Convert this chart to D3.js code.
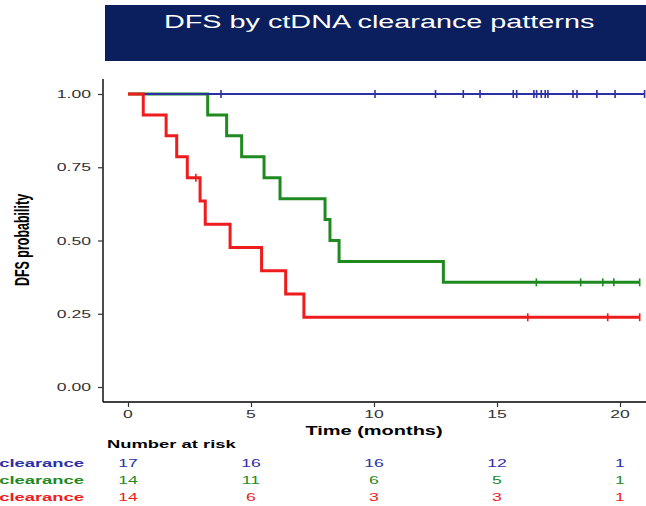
<!DOCTYPE html>
<html>
<head>
<meta charset="utf-8">
<script src="https://cdn.jsdelivr.net/npm/d3@7"></script>
<style>
body{margin:0;background:#fff}
svg{display:block}
text{font-family:"Liberation Sans",Arial,Helvetica,sans-serif}
</style>
</head>
<body>
<svg id="chart"></svg>
<script>
// km plot, DFS by ctDNA clearance

var title="DFS by ctDNA clearance patterns";
var groups=["clearance","clearance","clearance"];
var colors=["#2c30a6","#1f8a1f","#ee1c1c"];
var widths=[2,3,3];

// event / censor times (months)
var blueEvents=[];
var blueCensor=[3.78,10.04,12.5,13.63,14.31,15.66,15.8,16.5,16.61,16.8,16.96,17.07,18.09,18.25,19.06,19.8,21.0];
var greenEvents=[3.24,4.01,4.62,5.53,6.18,8.01,8.21,8.58,12.82];
var greenCensor=[16.6,18.4,19.3,19.75,20.8];
var redEvents=[0.62,1.55,1.98,2.41,2.93,3.14,4.15,5.43,6.41,7.15];
var redCensor=[2.76,16.25,19.5,20.8];

var riskTimes=[0,5,10,15,20];
var riskBlue=[17,16,16,12,1];
var riskGreen=[14,11,6,5,1];
var riskRed=[14,6,3,3,1];

var xTicks=[0,5,10,15,20];
var yTicks=[0,0.25,0.5,0.75,1];

w=646;h=506;
SX=1.6; // the figure is stretched sideways
var svg=d3.select("#chart").attr("width",w).attr("height",h);

var x=d3.scaleLinear().domain([0,20]).range([128,620]);
var y=d3.scaleLinear().domain([0,1]).range([387,94]);

// kaplan-meier from event and censor times
function km(ev,ce) {
	var all=ev.map(function(t){return {t:t,e:1};}).concat(ce.map(function(t){return {t:t,e:0};}));
	all.sort(function(a,b){return a.t-b.t;});
	var n=all.length,s=1,pts=[{t:0,s:1}],marks=[];
	all.forEach(function(d) {
		if(d.e) {s=s*(n-1)/n;pts.push({t:d.t,s:s});}
		else marks.push({t:d.t,s:s});
		n--;
	});
	pts.push({t:all[all.length-1].t,s:s});
	return {pts:pts,marks:marks};
}

var curves=[km(blueEvents,blueCensor),km(greenEvents,greenCensor),km(redEvents,redCensor)];

function label(g,px,py,txt,size,anchor,color,weight,rot) {
	return g.append("text")
		.attr("transform","translate("+px+","+py+") scale("+SX+",1)"+(rot?" rotate("+rot+")":""))
		.attr("text-anchor",anchor)
		.style("font-size",size+"px")
		.style("font-weight",weight||"normal")
		.style("fill",color)
		.text(txt);
}

// title box
svg.append("rect").attr("x",105).attr("y",5).attr("width",w-105).attr("height",56).style("fill","#0b1f5e");
label(svg,164,28,title,18,"start","#fff");

// axes
var gy=svg.append("g").attr("transform","translate(103,0)")
	.call(d3.axisLeft(y).tickValues(yTicks).tickSize(5).tickFormat(""));
gy.select(".domain").attr("d","M0,79V402");
var gx=svg.append("g").attr("transform","translate(0,402)")
	.call(d3.axisBottom(x).tickValues(xTicks).tickSize(5).tickFormat(""));
gx.select(".domain").attr("d","M103,0H"+w);
svg.selectAll(".domain").style("stroke","#000").style("stroke-width",1.4);
svg.selectAll(".tick line").style("stroke","#333").style("stroke-width",1.2);

yTicks.forEach(function(v) {label(svg,91,y(v)+4,d3.format(".2f")(v),11,"end","#333");});
xTicks.forEach(function(v) {label(svg,x(v),418,v,11,"middle","#333");});
label(svg,374,435,"Time (months)",12.5,"middle","#000","bold");
label(svg,29,240,"DFS probability",12.5,"middle","#000","bold",-90);

// curves, green under blue under red
var line=d3.line().x(function(d){return x(d.t);}).y(function(d){return y(d.s);}).curve(d3.curveStepAfter);
[1,0,2].forEach(function(i) {
	var c=curves[i];
	svg.append("path").attr("d",line(c.pts))
		.style("fill","none").style("stroke",colors[i]).style("stroke-width",widths[i]);
	svg.selectAll(".cens"+i).data(c.marks).enter().append("line")
		.attr("x1",function(d){return x(d.t);}).attr("x2",function(d){return x(d.t);})
		.attr("y1",function(d){return y(d.s)-4;}).attr("y2",function(d){return y(d.s)+4;})
		.style("stroke",colors[i]).style("stroke-width",1.6);
});

// risk table
label(svg,107,448,"Number at risk",11.5,"start","#000","bold");
var risk=[riskBlue,riskGreen,riskRed];
risk.forEach(function(r,i) {
	var yy=467+i*17;
	label(svg,84,yy,groups[i],11.5,"end",colors[i],"bold");
	r.forEach(function(v,j) {label(svg,x(riskTimes[j]),yy,v,11,"middle",colors[i]);});
});
</script>
</body>
</html>
